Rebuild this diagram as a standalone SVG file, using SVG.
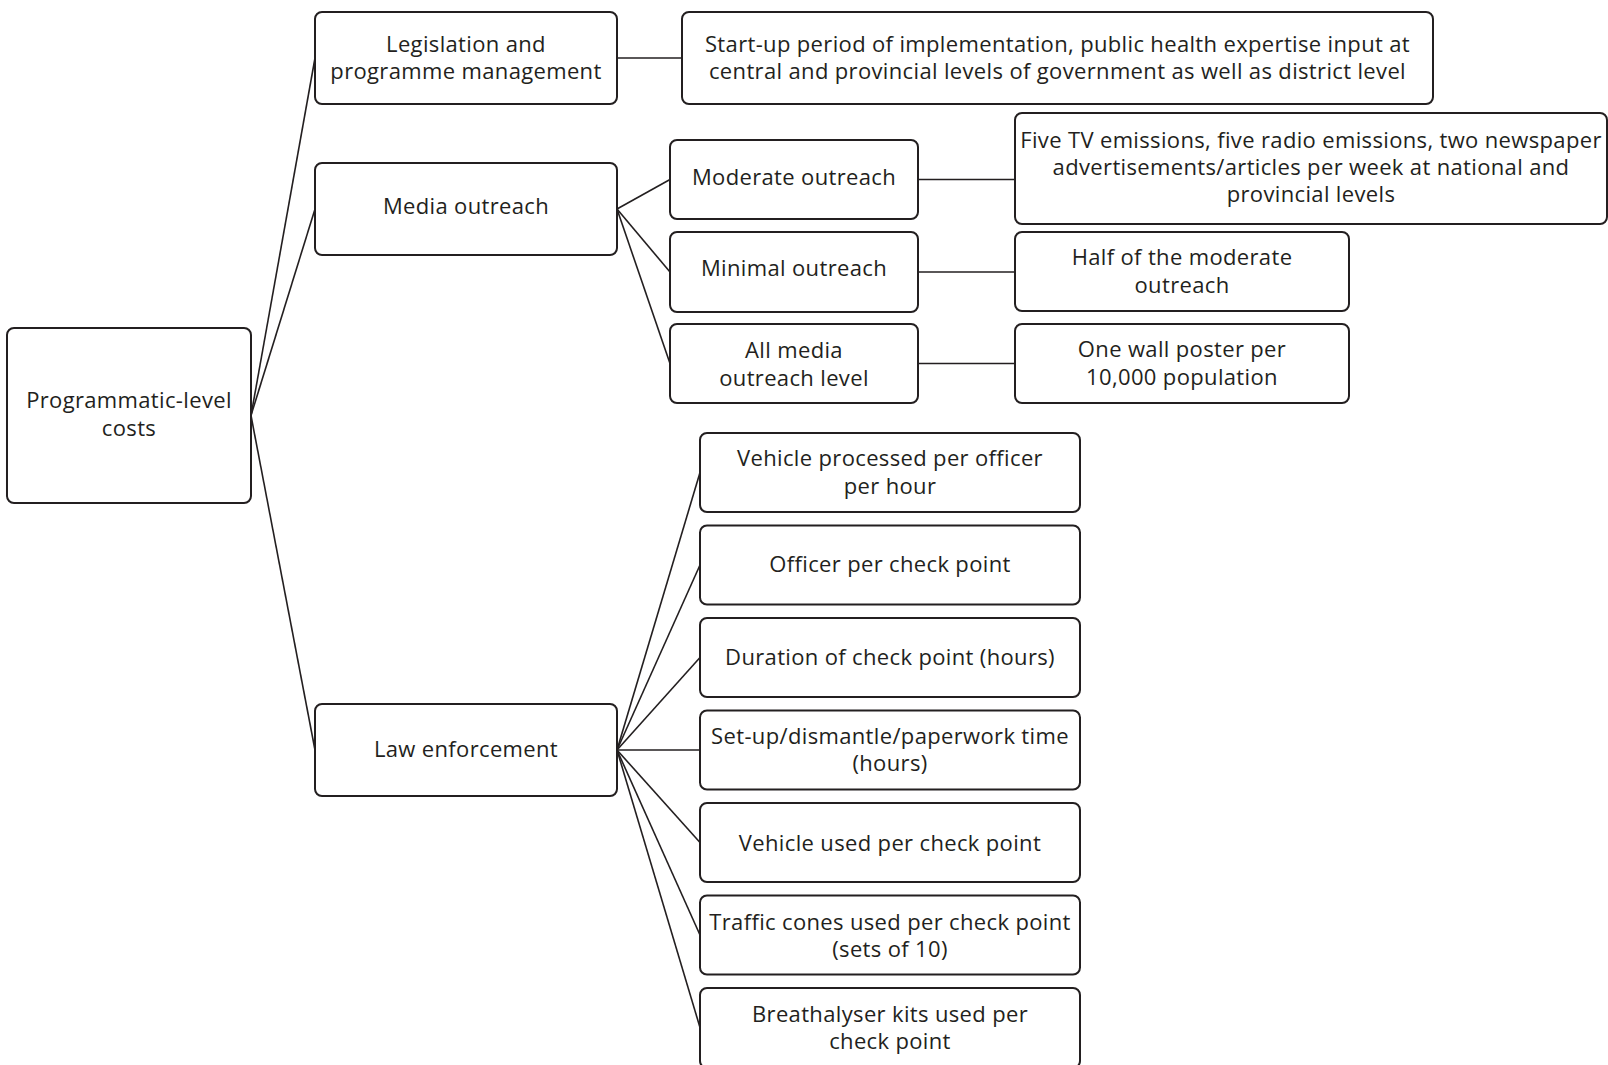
<svg xmlns="http://www.w3.org/2000/svg" width="1608" height="1065" viewBox="0 0 1608 1065">
<style>
.box{fill:#fff;stroke:#231f20;stroke-width:2}
.t{font-family:"Open Sans","Noto Sans","DejaVu Sans",sans-serif;font-size:22px;letter-spacing:0.35px;fill:#231f20;text-anchor:middle}
.c{stroke:#231f20;stroke-width:1.6;fill:none}
</style>
<rect width="1608" height="1065" fill="#fff"/>
<g id="connectors">
<line class="c" x1="251" y1="415.5" x2="315" y2="58"/>
<line class="c" x1="251" y1="415.5" x2="315" y2="209"/>
<line class="c" x1="251" y1="415.5" x2="315" y2="750"/>
<line class="c" x1="617" y1="58" x2="682" y2="58"/>
<line class="c" x1="617" y1="209" x2="670" y2="179.5"/>
<line class="c" x1="617" y1="209" x2="670" y2="272"/>
<line class="c" x1="617" y1="209" x2="670" y2="363.5"/>
<line class="c" x1="918" y1="179.5" x2="1015" y2="179.5"/>
<line class="c" x1="918" y1="272" x2="1015" y2="272"/>
<line class="c" x1="918" y1="363.5" x2="1015" y2="363.5"/>
<line class="c" x1="617" y1="750" x2="700" y2="472.5"/>
<line class="c" x1="617" y1="750" x2="700" y2="565"/>
<line class="c" x1="617" y1="750" x2="700" y2="657.5"/>
<line class="c" x1="617" y1="750" x2="700" y2="750"/>
<line class="c" x1="617" y1="750" x2="700" y2="842.5"/>
<line class="c" x1="617" y1="750" x2="700" y2="935"/>
<line class="c" x1="617" y1="750" x2="700" y2="1027.5"/>
</g>
<g id="root">
<rect class="box" x="7" y="328" width="244" height="175" rx="7"/>
<text class="t" x="129" y="408">Programmatic-level</text>
<text class="t" x="129" y="435.5">costs</text>
</g>
<g id="legislation">
<rect class="box" x="315" y="12" width="302" height="92" rx="7"/>
<text class="t" x="466" y="51.5">Legislation and</text>
<text class="t" x="466" y="79">programme management</text>
</g>
<g id="startup">
<rect class="box" x="682" y="12" width="751" height="92" rx="7"/>
<text class="t" x="1057.5" y="51.5">Start-up period of implementation, public health expertise input at</text>
<text class="t" x="1057.5" y="79">central and provincial levels of government as well as district level</text>
</g>
<g id="media">
<rect class="box" x="315" y="163" width="302" height="92" rx="7"/>
<text class="t" x="466" y="214">Media outreach</text>
</g>
<g id="moderate">
<rect class="box" x="670" y="140" width="248" height="79" rx="7"/>
<text class="t" x="794" y="185">Moderate outreach</text>
</g>
<g id="minimal">
<rect class="box" x="670" y="232" width="248" height="80" rx="7"/>
<text class="t" x="794" y="276">Minimal outreach</text>
</g>
<g id="allmedia">
<rect class="box" x="670" y="324" width="248" height="79" rx="7"/>
<text class="t" x="794" y="358">All media</text>
<text class="t" x="794" y="385.5">outreach level</text>
</g>
<g id="fivetv">
<rect class="box" x="1015" y="113" width="592" height="111" rx="7"/>
<text class="t" x="1311" y="148">Five TV emissions, five radio emissions, two newspaper</text>
<text class="t" x="1311" y="175">advertisements/articles per week at national and</text>
<text class="t" x="1311" y="202">provincial levels</text>
</g>
<g id="half">
<rect class="box" x="1015" y="232" width="334" height="79" rx="7"/>
<text class="t" x="1182" y="265">Half of the moderate</text>
<text class="t" x="1182" y="292.5">outreach</text>
</g>
<g id="wall">
<rect class="box" x="1015" y="324" width="334" height="79" rx="7"/>
<text class="t" x="1182" y="357">One wall poster per</text>
<text class="t" x="1182" y="384.5">10,000 population</text>
</g>
<g id="law">
<rect class="box" x="315" y="704" width="302" height="92" rx="7"/>
<text class="t" x="466" y="757">Law enforcement</text>
</g>
<g id="vehproc">
<rect class="box" x="700" y="433" width="380" height="79" rx="7"/>
<text class="t" x="890" y="466">Vehicle processed per officer</text>
<text class="t" x="890" y="493.5">per hour</text>
</g>
<g id="officer">
<rect class="box" x="700" y="525.5" width="380" height="79" rx="7"/>
<text class="t" x="890" y="572">Officer per check point</text>
</g>
<g id="duration">
<rect class="box" x="700" y="618" width="380" height="79" rx="7"/>
<text class="t" x="890" y="665">Duration of check point (hours)</text>
</g>
<g id="setup">
<rect class="box" x="700" y="710.5" width="380" height="79" rx="7"/>
<text class="t" x="890" y="744">Set-up/dismantle/paperwork time</text>
<text class="t" x="890" y="771">(hours)</text>
</g>
<g id="vehused">
<rect class="box" x="700" y="803" width="380" height="79" rx="7"/>
<text class="t" x="890" y="850.5">Vehicle used per check point</text>
</g>
<g id="cones">
<rect class="box" x="700" y="895.5" width="380" height="79" rx="7"/>
<text class="t" x="890" y="929.5">Traffic cones used per check point</text>
<text class="t" x="890" y="956.5">(sets of 10)</text>
</g>
<g id="breath">
<rect class="box" x="700" y="988" width="380" height="80" rx="7"/>
<text class="t" x="890" y="1021.5">Breathalyser kits used per</text>
<text class="t" x="890" y="1049">check point</text>
</g>
</svg>
